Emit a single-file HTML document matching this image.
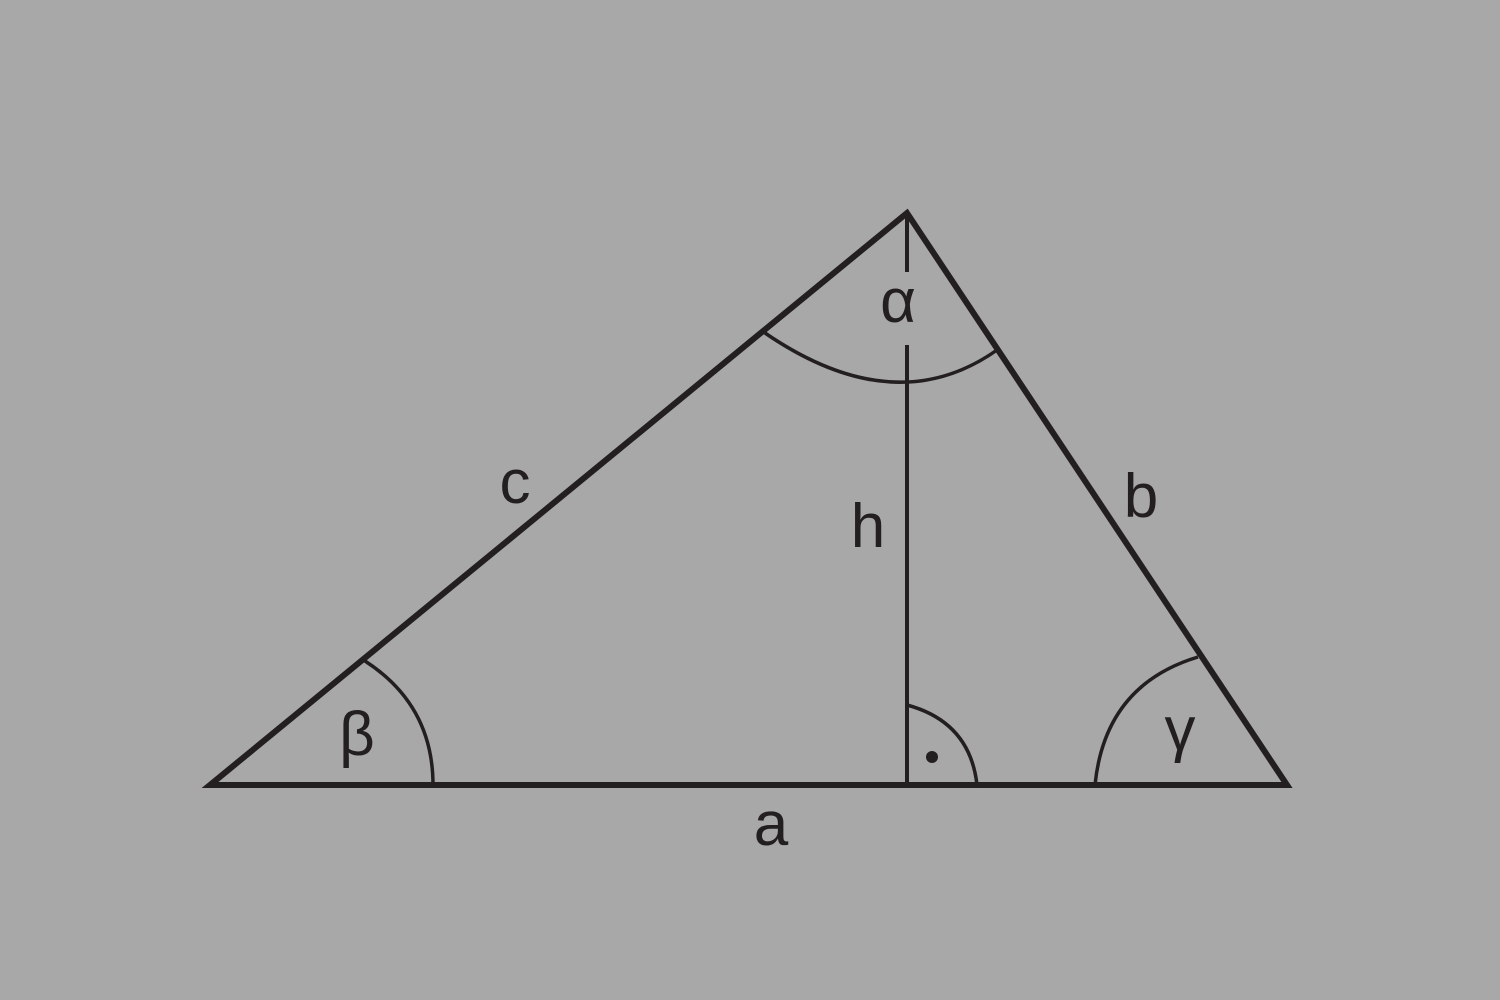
<!DOCTYPE html>
<html><head><meta charset="utf-8"><style>
html,body{margin:0;padding:0;background:#a8a8a8;}
svg{display:block}
text{font-family:"Liberation Sans","DejaVu Sans",sans-serif;fill:#231f20;font-size:62px;}
</style></head><body>
<svg width="1500" height="1000" viewBox="0 0 1500 1000">
<rect width="1500" height="1000" fill="#a8a8a8"/>
<polygon points="210,785 1287,785 907,213" fill="none" stroke="#231f20" stroke-width="6" stroke-linejoin="miter"/>
<line x1="907" y1="213" x2="907" y2="272" stroke="#231f20" stroke-width="4"/>
<line x1="907" y1="345" x2="907" y2="785" stroke="#231f20" stroke-width="4"/>
<path d="M765,333 Q895,422 997,350" fill="none" stroke="#231f20" stroke-width="3.5"/>
<path d="M365,661 Q433,705 433,785" fill="none" stroke="#231f20" stroke-width="3.5"/>
<path d="M1198,657 Q1105,685 1095,785" fill="none" stroke="#231f20" stroke-width="3.5"/>
<path d="M907,705 Q970,722 977,785" fill="none" stroke="#231f20" stroke-width="3.5"/>
<circle cx="932" cy="757" r="6" fill="#231f20"/>
<text x="515" y="503" text-anchor="middle">c</text>
<text x="1141" y="517" text-anchor="middle">b</text>
<text x="868" y="547" text-anchor="middle">h</text>
<text x="771" y="845" text-anchor="middle">a</text>
<text x="898" y="322" text-anchor="middle">α</text>
<text x="357" y="755" text-anchor="middle">β</text>
<text x="1180" y="750" text-anchor="middle">γ</text>
</svg>
</body></html>
